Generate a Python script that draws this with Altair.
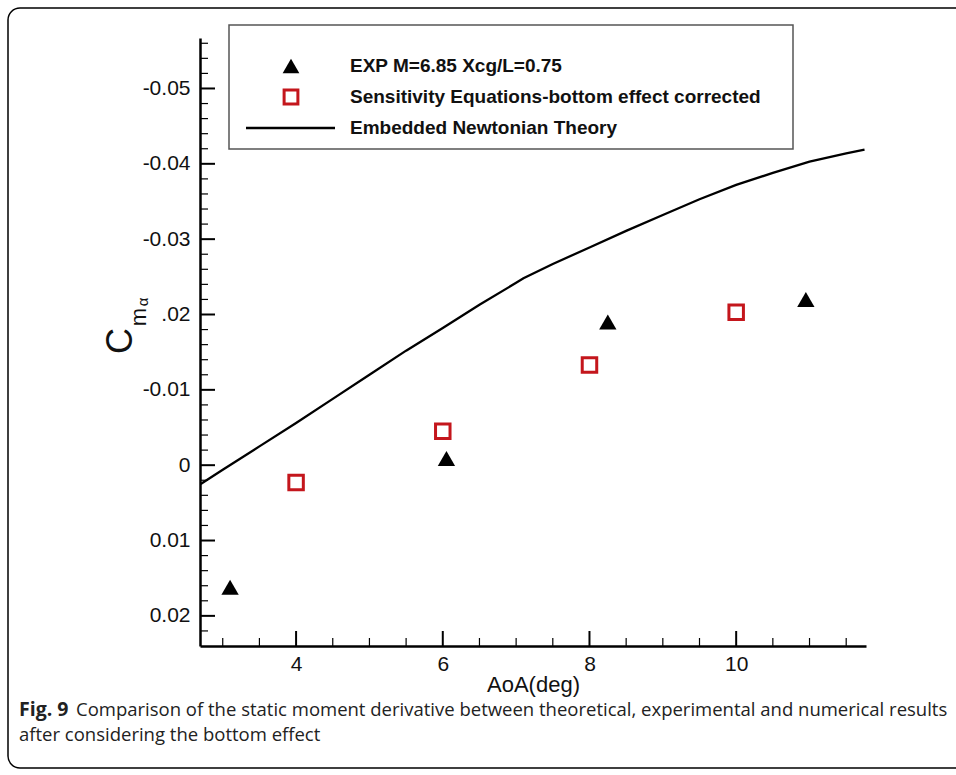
import altair as alt
import pandas as pd

# ---------------- data ----------------
exp_aoa = [3.1, 6.05, 8.25, 10.95]
exp_cma = [0.0162, -0.0009, -0.0190, -0.0220]

sens_aoa = [4, 6, 8, 10]
sens_cma = [0.0023, -0.0045, -0.0133, -0.0203]

theory_aoa = [2.7, 3.0, 3.5, 4.0, 4.5, 5.0, 5.5, 6.0, 6.5, 7.0, 7.1, 7.5, 8.0, 8.5,
              9.0, 9.5, 10.0, 10.5, 11.0, 11.5, 11.75]
theory_cma = [0.0025, 0.0006, -0.0025, -0.0056, -0.0088, -0.0120, -0.0152, -0.0182,
              -0.0213, -0.0242, -0.0248, -0.0267, -0.0289, -0.0311, -0.0332, -0.0353,
              -0.0372, -0.0388, -0.0403, -0.0414, -0.0419]

legend_labels = ["EXP M=6.85 Xcg/L=0.75",
                 "Sensitivity Equations-bottom effect corrected",
                 "Embedded Newtonian Theory"]

x_major = [4, 6, 8, 10]
x_minor = [3.0, 3.5, 4.5, 5.0, 5.5, 6.5, 7.0, 7.5, 8.5, 9.0, 9.5, 10.5, 11.0, 11.5]
y_major = [-0.05, -0.04, -0.03, -0.02, -0.01, 0.0, 0.01, 0.02]
y_minor = [-0.056, -0.054, -0.052, -0.048, -0.046, -0.044, -0.042, -0.038, -0.036,
           -0.034, -0.032, -0.028, -0.026, -0.024, -0.022, -0.018, -0.016, -0.014,
           -0.012, -0.008, -0.006, -0.004, -0.002, 0.002, 0.004, 0.006, 0.008, 0.012,
           0.014, 0.016, 0.018, 0.022]

caption_bold = "Fig. 9"
caption_line1 = "Comparison of the static moment derivative between theoretical, experimental and numerical results"
caption_line2 = "after considering the bottom effect"

# ---------------- layout ----------------
W, H = 666, 608          # plot area
PL, PT = 200, 38         # padding left / top
X_DOM = [2.69, 11.77]
Y_DOM = [-0.0567, 0.0240]
RED = "#c4161c"
AX_FONT = "Liberation Sans"

df_exp = pd.DataFrame({"aoa": exp_aoa, "cma": exp_cma})
df_sens = pd.DataFrame({"aoa": sens_aoa, "cma": sens_cma})
df_th = pd.DataFrame({"aoa": theory_aoa, "cma": theory_cma})
df_xmaj = pd.DataFrame({"aoa": x_major})
df_xmin = pd.DataFrame({"aoa": x_minor})
df_ymaj = pd.DataFrame({"cma": y_major})
df_ymin = pd.DataFrame({"cma": y_minor})
one = pd.DataFrame({"k": [0]})

xs = alt.Scale(domain=X_DOM, nice=False, zero=False)
ys = alt.Scale(domain=Y_DOM, nice=False, zero=False, reverse=True)

label_expr = ("abs(datum.value) < 1e-9 ? '0' : (abs(datum.value + 0.02) < 1e-9 ? '.02' : "
              "((datum.value < 0 ? '-' : '') + format(abs(datum.value), '.2f')))")

x_axis = alt.Axis(values=x_major, format="d", ticks=False, tickSize=0, grid=False,
                  domainWidth=2.5, domainColor="black", labelFontSize=21, labelFont=AX_FONT,
                  labelColor="#111", labelPadding=7, title="AoA(deg)",
                  titleFont=AX_FONT, titleFontSize=22, titleFontWeight="normal",
                  titleColor="#111", titlePadding=0)
y_axis = alt.Axis(values=y_major, ticks=False, tickSize=0, grid=False, domainWidth=2.5,
                  domainColor="black", labelFontSize=21, labelFont=AX_FONT,
                  labelColor="#111", labelPadding=10, labelExpr=label_expr, title="")

X = alt.X("aoa:Q", scale=xs, axis=x_axis)
Y = alt.Y("cma:Q", scale=ys, axis=y_axis)

# frame around the whole figure
frame = alt.Chart(one).mark_rect(fillOpacity=0, stroke="black", strokeWidth=1.5,
                                 cornerRadius=12).encode(
    x=alt.value(8 - PL), x2=alt.value(990 - PL),
    y=alt.value(8 - PT), y2=alt.value(768 - PT))

line = alt.Chart(df_th).mark_line(color="black", strokeWidth=2.3).encode(x=X, y=Y)

tri = alt.Chart(df_exp).mark_point(shape="triangle-up", filled=True, color="black",
                                   size=300, opacity=1).encode(x="aoa:Q", y="cma:Q")
sq = alt.Chart(df_sens).mark_point(shape="square", filled=False, color=RED,
                                   strokeWidth=3, size=210, opacity=1).encode(
    x="aoa:Q", y="cma:Q")

# inward ticks drawn through the scales
xt_maj = alt.Chart(df_xmaj).mark_rule(color="black", strokeWidth=2).encode(
    x="aoa:Q", y=alt.value(H), y2=alt.value(H - 15))
xt_min = alt.Chart(df_xmin).mark_rule(color="black", strokeWidth=1.2).encode(
    x="aoa:Q", y=alt.value(H), y2=alt.value(H - 8))
yt_maj = alt.Chart(df_ymaj).mark_rule(color="black", strokeWidth=2).encode(
    y="cma:Q", x=alt.value(0), x2=alt.value(15))
yt_min = alt.Chart(df_ymin).mark_rule(color="black", strokeWidth=1.2).encode(
    y="cma:Q", x=alt.value(0), x2=alt.value(8))

# y title C_{m_alpha}
yt_c = alt.Chart(one).mark_text(text="C", angle=270, font=AX_FONT, fontSize=36,
                                align="center", baseline="middle", color="#111").encode(
    x=alt.value(121 - PL), y=alt.value(341 - PT))
yt_m = alt.Chart(one).mark_text(text="m", angle=270, font=AX_FONT, fontSize=22,
                                align="center", baseline="middle", color="#111").encode(
    x=alt.value(139 - PL), y=alt.value(317 - PT))
yt_a = alt.Chart(one).mark_text(text="α", angle=270, font=AX_FONT, fontSize=15,
                                align="center", baseline="middle", color="#111").encode(
    x=alt.value(143 - PL), y=alt.value(302 - PT))

# legend box
leg_box = alt.Chart(one).mark_rect(fill="white", stroke="#555", strokeWidth=1.5).encode(
    x=alt.value(229 - PL), x2=alt.value(793 - PL),
    y=alt.value(25 - PT), y2=alt.value(149 - PT))
leg_tri = alt.Chart(one).mark_point(shape="triangle-up", filled=True, color="black",
                                    size=280, opacity=1).encode(
    x=alt.value(291 - PL), y=alt.value(66 - PT))
leg_sq = alt.Chart(one).mark_point(shape="square", filled=False, color=RED,
                                   strokeWidth=3, size=190, opacity=1).encode(
    x=alt.value(291 - PL), y=alt.value(97 - PT))
leg_line = alt.Chart(one).mark_rule(color="black", strokeWidth=2.5).encode(
    x=alt.value(246 - PL), x2=alt.value(335 - PL), y=alt.value(128 - PT))
leg_texts = []
for lab, ypix in zip(legend_labels, [66, 97, 128]):
    leg_texts.append(
        alt.Chart(one).mark_text(text=lab, align="left", baseline="middle", font=AX_FONT,
                                 fontSize=19, fontWeight="bold", color="#111").encode(
            x=alt.value(350 - PL), y=alt.value(ypix - PT)))

# caption
CAP_FONT = "Open Sans"
CAP_SIZE = 18.5
cap_b = alt.Chart(one).mark_text(text=caption_bold, align="left", baseline="middle",
                                 font=CAP_FONT, fontSize=19.5, fontWeight="bold",
                                 color="#222").encode(
    x=alt.value(19 - PL), y=alt.value(710 - PT))
cap_1 = alt.Chart(one).mark_text(text=caption_line1, align="left", baseline="middle",
                                 font=CAP_FONT, fontSize=CAP_SIZE, color="#222").encode(
    x=alt.value(76 - PL), y=alt.value(710 - PT))
cap_2 = alt.Chart(one).mark_text(text=caption_line2, align="left", baseline="middle",
                                 font=CAP_FONT, fontSize=CAP_SIZE, color="#222").encode(
    x=alt.value(19 - PL), y=alt.value(735 - PT))

chart = alt.layer(
    frame, line, xt_maj, xt_min, yt_maj, yt_min, sq, tri,
    leg_box, leg_tri, leg_sq, leg_line, *leg_texts,
    yt_c, yt_m, yt_a, cap_b, cap_1, cap_2,
).properties(
    width=W, height=H,
    autosize=alt.AutoSizeParams(type="none"),
    padding={"left": PL, "top": PT, "right": 956 - PL - W, "bottom": 775 - PT - H},
    background="white",
).configure_view(strokeWidth=0)

chart.save("out.html", embed_options={"renderer": "svg", "actions": False})
